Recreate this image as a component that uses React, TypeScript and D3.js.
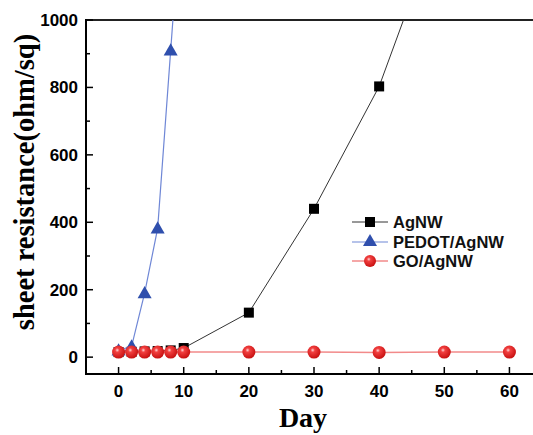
import React, { useEffect, useRef } from "react";
import * as d3 from "d3";

const agDays = [0, 2, 4, 6, 8, 10, 20, 30, 40, 50];
const agValues = [15, 16, 17, 18, 20, 27, 132, 440, 803, 1330];
const pedotDays = [0, 2, 4, 6, 8, 10];
const pedotValues = [20, 32, 190, 382, 910, 1440];
const goDays = [0, 2, 4, 6, 8, 10, 20, 30, 40, 50, 60];
const goValues = [15, 15, 15, 15, 15, 15, 15, 15, 14, 15, 15];
const xTicks = [0, 10, 20, 30, 40, 50, 60];
const yTicks = [0, 200, 400, 600, 800, 1000];
const legendLabels = ["AgNW", "PEDOT/AgNW", "GO/AgNW"];

const W = 533, H = 435;
const left = 86, top = 20, bottom = 374, right = 542;

export default function App() {
  const ref = useRef<SVGSVGElement>(null);
  useEffect(() => {
    const svg = d3.select(ref.current);
    svg.selectAll("*").remove();
    const x = d3.scaleLinear().domain([-5, 65]).range([left, right]);
    const y = d3.scaleLinear().domain([-50, 1000]).range([bottom, top]);

    const defs = svg.append("defs");
    defs.append("clipPath").attr("id", "clip").append("rect")
      .attr("x", left).attr("y", top).attr("width", right - left).attr("height", bottom - top);
    const grad = defs.append("radialGradient").attr("id", "ball")
      .attr("cx", "40%").attr("cy", "35%").attr("r", "65%");
    grad.append("stop").attr("offset", "0%").attr("stop-color", "#ffd8d8");
    grad.append("stop").attr("offset", "25%").attr("stop-color", "#f24040");
    grad.append("stop").attr("offset", "100%").attr("stop-color", "#c81010");

    // axes frame
    svg.append("line").attr("x1", left).attr("x2", right).attr("y1", top).attr("y2", top)
      .attr("stroke", "#222").attr("stroke-width", 2);
    svg.append("line").attr("x1", left).attr("x2", right).attr("y1", bottom).attr("y2", bottom)
      .attr("stroke", "#000").attr("stroke-width", 2);
    svg.append("line").attr("x1", left).attr("x2", left).attr("y1", top - 1).attr("y2", bottom + 1)
      .attr("stroke", "#000").attr("stroke-width", 2);

    // x ticks
    const xMinor = d3.range(-5, 66, 5).filter(v => v % 10 !== 0);
    xTicks.forEach(t => {
      svg.append("line").attr("x1", x(t)).attr("x2", x(t)).attr("y1", bottom).attr("y2", bottom - 7)
        .attr("stroke", "#000").attr("stroke-width", 1.5);
      svg.append("text").attr("x", x(t)).attr("y", bottom + 23).attr("text-anchor", "middle")
        .attr("font-family", "Liberation Sans, Arial, sans-serif").attr("font-weight", "bold")
        .attr("font-size", 17).text(String(t));
    });
    xMinor.forEach(t => {
      if (x(t) <= left + 1) return;
      svg.append("line").attr("x1", x(t)).attr("x2", x(t)).attr("y1", bottom).attr("y2", bottom - 4)
        .attr("stroke", "#000").attr("stroke-width", 1.5);
    });
    // y ticks
    yTicks.forEach(t => {
      svg.append("line").attr("x1", left).attr("x2", left + 7).attr("y1", y(t)).attr("y2", y(t))
        .attr("stroke", "#000").attr("stroke-width", 1.5);
      svg.append("text").attr("x", 78).attr("y", y(t)).attr("dy", "0.35em").attr("text-anchor", "end")
        .attr("font-family", "Liberation Sans, Arial, sans-serif").attr("font-weight", "bold")
        .attr("font-size", 17).text(String(t));
    });
    d3.range(100, 1000, 200).forEach(t => {
      svg.append("line").attr("x1", left).attr("x2", left + 4).attr("y1", y(t)).attr("y2", y(t))
        .attr("stroke", "#000").attr("stroke-width", 1.5);
    });

    // axis titles
    svg.append("text").attr("transform", `translate(34,182) rotate(-90)`)
      .attr("text-anchor", "middle").attr("font-family", "Liberation Serif, Times New Roman, serif")
      .attr("font-weight", "bold").attr("font-size", 28.5).text("sheet resistance(ohm/sq)");
    svg.append("text").attr("x", 303).attr("y", 427).attr("text-anchor", "middle")
      .attr("font-family", "Liberation Serif, Times New Roman, serif")
      .attr("font-weight", "bold").attr("font-size", 28).text("Day");

    const plot = svg.append("g").attr("clip-path", "url(#clip)");
    const line = d3.line<[number, number]>().x(d => x(d[0])).y(d => y(d[1]));

    const agPts = agDays.map((d, i) => [d, agValues[i]] as [number, number]);
    const pePts = pedotDays.map((d, i) => [d, pedotValues[i]] as [number, number]);
    const goPts = goDays.map((d, i) => [d, goValues[i]] as [number, number]);

    plot.append("path").attr("d", line(agPts)).attr("fill", "none").attr("stroke", "#333").attr("stroke-width", 1);
    plot.selectAll(".sq").data(agPts).enter().append("rect")
      .attr("x", d => x(d[0]) - 5).attr("y", d => y(d[1]) - 5).attr("width", 10).attr("height", 10)
      .attr("fill", "#000");

    plot.append("path").attr("d", line(pePts)).attr("fill", "none").attr("stroke", "#6f87d6").attr("stroke-width", 1.2);
    const tri = d3.symbol().type(d3.symbolTriangle).size(85);
    plot.selectAll(".tri").data(pePts).enter().append("path")
      .attr("d", tri()).attr("transform", d => `translate(${x(d[0])},${y(d[1]) + 1})`)
      .attr("fill", "#2f4fad");

    plot.append("path").attr("d", line(goPts)).attr("fill", "none").attr("stroke", "#f28a8a").attr("stroke-width", 1.5);
    plot.selectAll(".ball").data(goPts).enter().append("circle")
      .attr("cx", d => x(d[0])).attr("cy", d => y(d[1])).attr("r", 6.5)
      .attr("fill", "url(#ball)");

    // legend
    const lx = 352, ly = [222, 242, 261];
    const fontL = "Liberation Sans, Arial, sans-serif";
    // AgNW
    svg.append("line").attr("x1", lx).attr("x2", lx + 36).attr("y1", ly[0]).attr("y2", ly[0]).attr("stroke", "#333");
    svg.append("rect").attr("x", lx + 13).attr("y", ly[0] - 5).attr("width", 10).attr("height", 10).attr("fill", "#000");
    // PEDOT
    svg.append("line").attr("x1", lx).attr("x2", lx + 36).attr("y1", ly[1]).attr("y2", ly[1]).attr("stroke", "#6f87d6").attr("stroke-width", 1.2);
    svg.append("path").attr("d", tri()).attr("transform", `translate(${lx + 18},${ly[1]})`).attr("fill", "#2f4fad");
    // GO
    svg.append("line").attr("x1", lx).attr("x2", lx + 36).attr("y1", ly[2]).attr("y2", ly[2]).attr("stroke", "#f28a8a").attr("stroke-width", 1.5);
    svg.append("circle").attr("cx", lx + 18).attr("cy", ly[2]).attr("r", 6).attr("fill", "url(#ball)");
    legendLabels.forEach((t, i) => {
      svg.append("text").attr("x", lx + 41).attr("y", ly[i]).attr("dy", "0.36em")
        .attr("font-family", fontL).attr("font-size", 16.5).attr("font-weight", "bold").attr("fill", "#111").text(t);
    });
  }, []);
  return (
    <svg ref={ref} width={W} height={H} style={{ position: "absolute", left: 0, top: 0, background: "#fff" }} />
  );
}
